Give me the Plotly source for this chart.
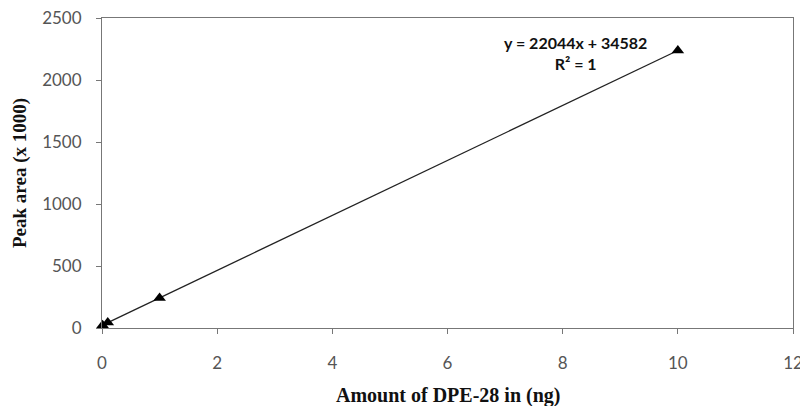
import numpy as np
import plotly.graph_objects as go

# Data
amount_ng = [0.01, 0.1, 1, 10]
peak_area = [22, 45, 242, 2238]
x_ticks = [0, 2, 4, 6, 8, 10, 12]
y_ticks = [0, 500, 1000, 1500, 2000, 2500]
equation_text = "y = 22044x + 34582"
r2_text = "R² = 1"
x_title = "Amount of DPE-28 in (ng)"
y_title = "Peak area (x 1000)"

slope, intercept = np.polyfit(amount_ng, peak_area, 1)
line_x = [min(amount_ng), max(amount_ng)]
line_y = [slope * v + intercept for v in line_x]

fig = go.Figure()
fig.add_trace(go.Scatter(x=line_x, y=line_y, mode="lines",
                         line=dict(color="#222222", width=1.3), showlegend=False, hoverinfo="skip",
                         cliponaxis=False))
fig.add_trace(go.Scatter(x=amount_ng, y=peak_area, mode="markers",
                         marker=dict(symbol="triangle-up", size=11, color="black"),
                         showlegend=False, cliponaxis=False))

fig.add_annotation(x=10, y=2238, xref="x", yref="y", text="<b>" + equation_text + "</b><br><b>" + r2_text + "</b>",
                   showarrow=False, xanchor="center", yanchor="middle", xshift=-102, yshift=-3,
                   font=dict(family="Lato", size=16, color="#111111"), align="center")

# axis titles
fig.add_annotation(x=0.5, y=0, xref="paper", yref="paper", text="<b>" + x_title + "</b>",
                   showarrow=False, xanchor="center", yanchor="middle", yshift=-67,
                   font=dict(family="Liberation Serif", size=20, color="#111111"))
fig.add_annotation(x=0, y=0.5, xref="paper", yref="paper", text="<b>" + y_title + "</b>",
                   showarrow=False, xanchor="center", yanchor="middle", xshift=-82, textangle=-90,
                   font=dict(family="Liberation Serif", size=19, color="#111111"))

tickfont = dict(family="Lato", size=17, color="#555555")
fig.update_xaxes(range=[0, 12], tickvals=x_ticks, ticks="outside", ticklen=5, tickcolor="#777777",
                 showgrid=False, zeroline=False, showline=True, linecolor="#777777", linewidth=1,
                 mirror=True, tickfont=tickfont, ticklabelstandoff=15, automargin=False,
                 ticklabeloverflow="allow")
fig.update_yaxes(range=[0, 2500], tickvals=y_ticks, ticks="outside", ticklen=5, tickcolor="#777777",
                 showgrid=False, zeroline=False, showline=True, linecolor="#777777", linewidth=1,
                 mirror=True, tickfont=tickfont, ticklabelstandoff=11, automargin=False,
                 ticklabeloverflow="allow")

fig.update_layout(width=800, height=398, margin=dict(l=94, r=15, t=10, b=78),
                  plot_bgcolor="white", paper_bgcolor="white")

fig.write_html("out.html")
